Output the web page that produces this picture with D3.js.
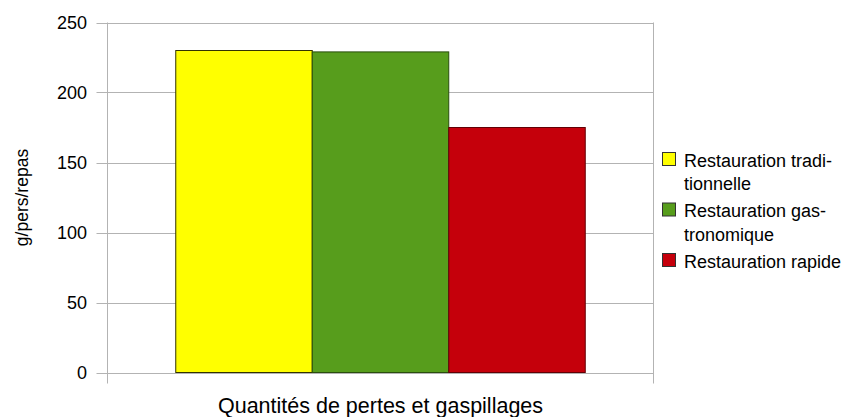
<!DOCTYPE html>
<html>
  <head>
    <meta charset="utf-8">
    <title>Pertes et gaspillages</title>
    <script src="https://d3js.org/d3.v7.min.js"></script>
    <style>
      body { margin: 0; background: #fff; }
      text { font-family: "Liberation Sans", Arial, sans-serif; fill: #000; }
    </style>
  </head>
  <body>
    <div id="chart"></div>
    <script>
      // data
      var category = "Quantités de pertes et gaspillages";
      var series = ["Restauration traditionnelle", "Restauration gastronomique", "Restauration rapide"];
      var legendLines = [["Restauration tradi-", "tionnelle"], ["Restauration gas-", "tronomique"], ["Restauration rapide"]];
      var values = [230, 229, 175];
      var colors = ["#ffff00", "#579d1c", "#c5000b"];
      var strokes = ["#333300", "#2a4e0e", "#620005"];
      var yTicks = [0, 50, 100, 150, 200, 250];

      var width = 848, height = 417;
      var margin = { top: 22.5, right: 194.5, bottom: 44.5, left: 107.5 };

      var svg = d3.select("#chart")
        .append("svg")
        .attr("width", width)
        .attr("height", height);

      var y = d3.scaleLinear()
        .domain([0, 250])
        .range([height - margin.bottom, margin.top]);

      var x0 = margin.left, x1 = width - margin.right;
      // one category, bars take up 75% of the slot
      var xBand = d3.scaleBand()
        .domain(series)
        .range([x0 + (x1 - x0) * 0.125, x1 - (x1 - x0) * 0.125]);

      // gridlines
      svg.append("g")
        .selectAll("line")
        .data(yTicks)
        .enter().append("line")
        .attr("x1", x0 - 11)
        .attr("x2", x1)
        .attr("y1", function(d) { return Math.round(y(d)) + 0.5; })
        .attr("y2", function(d) { return Math.round(y(d)) + 0.5; })
        .attr("stroke", "#b3b3b3")
        .attr("stroke-width", 1);

      // vertical axis lines
      [x0, x1].forEach(function(xx) {
        svg.append("line")
          .attr("x1", xx).attr("x2", xx)
          .attr("y1", y(250)).attr("y2", y(0) + 11)
          .attr("stroke", "#b3b3b3");
      });

      // tick labels
      svg.append("g")
        .selectAll("text")
        .data(yTicks)
        .enter().append("text")
        .attr("x", 87)
        .attr("y", function(d) { return y(d) + 6.5; })
        .attr("text-anchor", "end")
        .style("font-size", "18px")
        .text(function(d) { return d; });

      // bars
      svg.append("g")
        .selectAll("rect")
        .data(values)
        .enter().append("rect")
        .attr("x", function(d, i) { return xBand(series[i]); })
        .attr("y", function(d) { return y(d); })
        .attr("width", xBand.bandwidth())
        .attr("height", function(d) { return y(0) - y(d); })
        .attr("fill", function(d, i) { return colors[i]; })
        .attr("stroke", function(d, i) { return strokes[i]; })
        .attr("stroke-width", 1);

      // axis titles
      svg.append("text")
        .attr("x", (x0 + x1) / 2)
        .attr("y", 413)
        .attr("text-anchor", "middle")
        .style("font-size", "21.5px")
        .text(category);

      svg.append("text")
        .attr("transform", "translate(28," + (y(0) + y(250)) / 2 + ") rotate(-90)")
        .attr("text-anchor", "middle")
        .style("font-size", "17.5px")
        .text("g/pers/repas");

      // legend
      var legendTops = [152.5, 203, 253.5];
      var legend = svg.append("g")
        .selectAll("g")
        .data(series)
        .enter().append("g")
        .attr("transform", function(d, i) { return "translate(662.5," + legendTops[i] + ")"; });

      legend.append("rect")
        .attr("width", 13)
        .attr("height", 13)
        .attr("fill", function(d, i) { return colors[i]; })
        .attr("stroke", "#333");

      legend.append("text")
        .style("font-size", "18px")
        .selectAll("tspan")
        .data(function(d, i) { return legendLines[i]; })
        .enter().append("tspan")
        .attr("x", 21.5)
        .attr("y", function(d, j) { return 14.3 + j * 23.5; })
        .text(function(d) { return d; });
    </script>
  </body>
</html>
